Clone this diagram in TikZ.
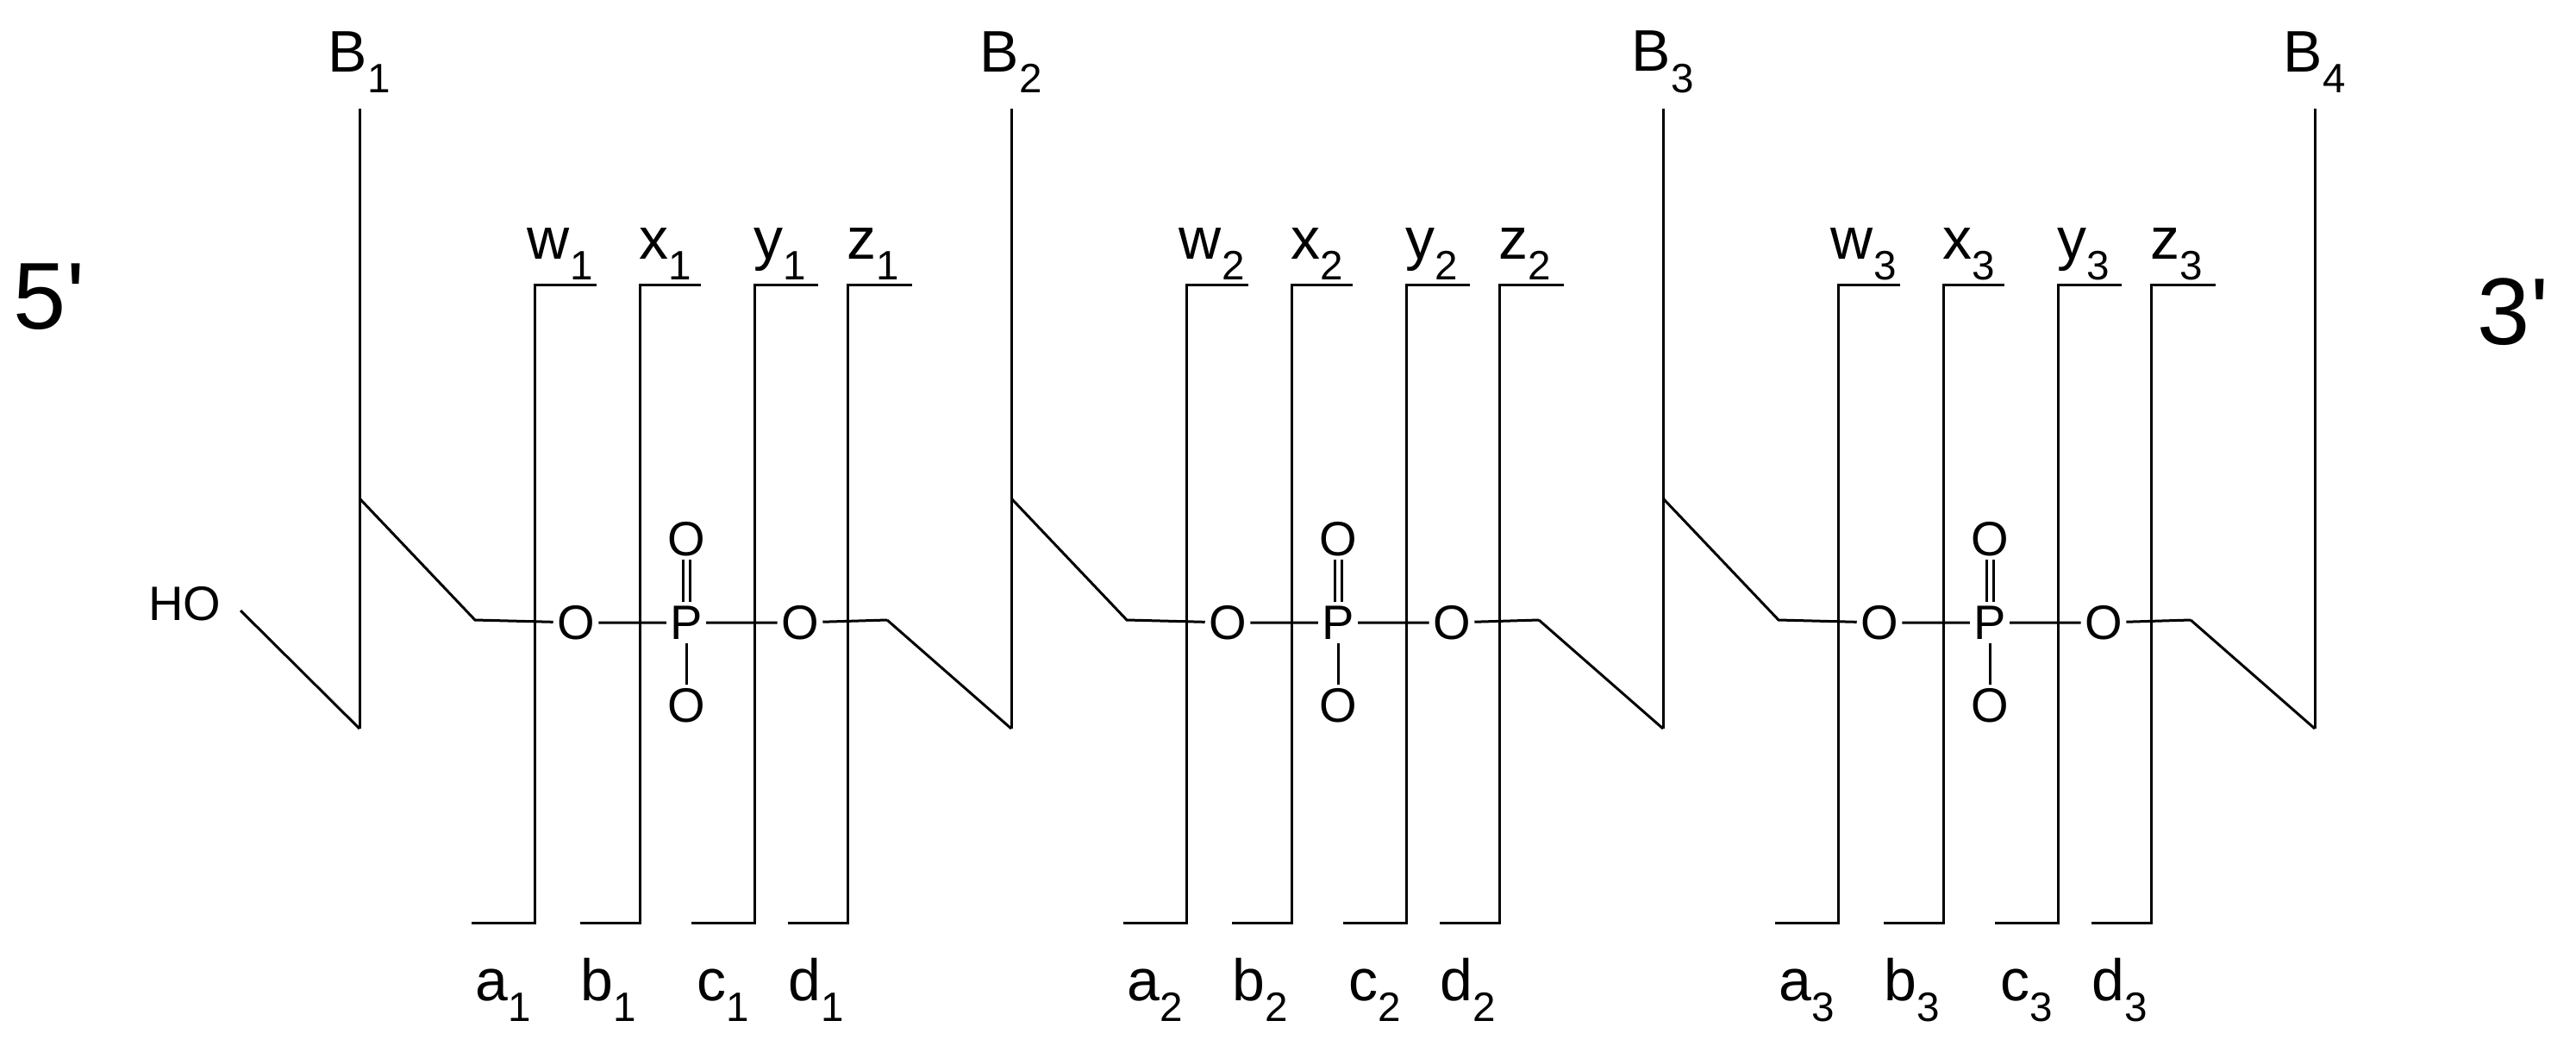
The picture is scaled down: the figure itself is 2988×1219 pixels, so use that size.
\documentclass[tikz,border=0pt]{standalone}
\usepackage{fontspec}
\setmainfont{Liberation Sans}
\begin{document}
\begin{tikzpicture}[x=1pt,y=-1pt,line width=3pt,
  lab/.style={font=\fontsize{68}{70}\selectfont,inner sep=0pt},
  atom/.style={font=\fontsize{56}{58}\selectfont,inner sep=3pt},
  big/.style={font=\fontsize{110}{112}\selectfont,inner sep=0pt}]
\useasboundingbox (0,0) rectangle (2988,1219);
\node[big] (five) at (57,344) {5\textquotesingle};
\node[big] (three) at (2915,362) {3\textquotesingle};
\node[atom] (HO) at (214,700) {HO};
\coordinate (ho1) at (279,708);
\coordinate (ho2) at (417,845);
\draw (ho1) -- (ho2);
\foreach \i in {1,2,3}{
  \pgfmathsetmacro{\bx}{417+756*(\i-1)}
  \coordinate (Btop\i) at (\bx,126);
  \coordinate (Bbot\i) at (\bx,845);
  \coordinate (K\i) at (\bx,578);
  \coordinate (C\i) at (\bx+134,719);
  \coordinate (D\i) at (\bx+612,719);
  \node[lab] (Bl\i) at (\bx,72) {B\textsubscript{\i}};
  \draw (Btop\i) -- (Bbot\i);
  \node[atom] (Oa\i) at (\bx+251,722) {O};
  \node[atom] (P\i) at (\bx+379,722) {P};
  \node[atom] (Ob\i) at (\bx+511,722) {O};
  \node[atom] (Ou\i) at (\bx+379,625) {O};
  \node[atom] (Od\i) at (\bx+379,818) {O};
  \draw (K\i) -- (C\i) -- (Oa\i);
  \draw (Oa\i) -- (P\i) -- (Ob\i) -- (D\i);
  \draw ([xshift=-4pt]P\i.north) -- ([xshift=-4pt]Ou\i.south);
  \draw ([xshift=4pt]P\i.north) -- ([xshift=4pt]Ou\i.south);
  \draw (P\i.south) -- (Od\i.north);
  \foreach \v/\t/\b/\tl/\bl [count=\k] in {203/275/130/w/a, 325/396/256/x/b, 458/532/385/y/c, 566/641/497/z/d}{
    \coordinate (T\i\k) at (\bx+\t,330);
    \coordinate (V\i\k) at (\bx+\v,330);
    \coordinate (W\i\k) at (\bx+\v,1070);
    \coordinate (U\i\k) at (\bx+\b,1070);
    \draw (T\i\k) -- (V\i\k) -- (W\i\k) -- (U\i\k);
    \node[lab,anchor=base] (tl\i\k) at (\bx+\v+30,300) {\tl\textsubscript{\i}};
    \node[lab,anchor=base] (bl\i\k) at (\bx+\v-36,1160) {\bl\textsubscript{\i}};
  }
}
\coordinate (Btop4) at (2685,126);
\coordinate (Bbot4) at (2685,845);
\node[lab] (Bl4) at (2685,72) {B\textsubscript{4}};
\draw (Btop4) -- (Bbot4);
\draw (D1) -- (Bbot2);
\draw (D2) -- (Bbot3);
\draw (D3) -- (Bbot4);
\end{tikzpicture}
\end{document}
